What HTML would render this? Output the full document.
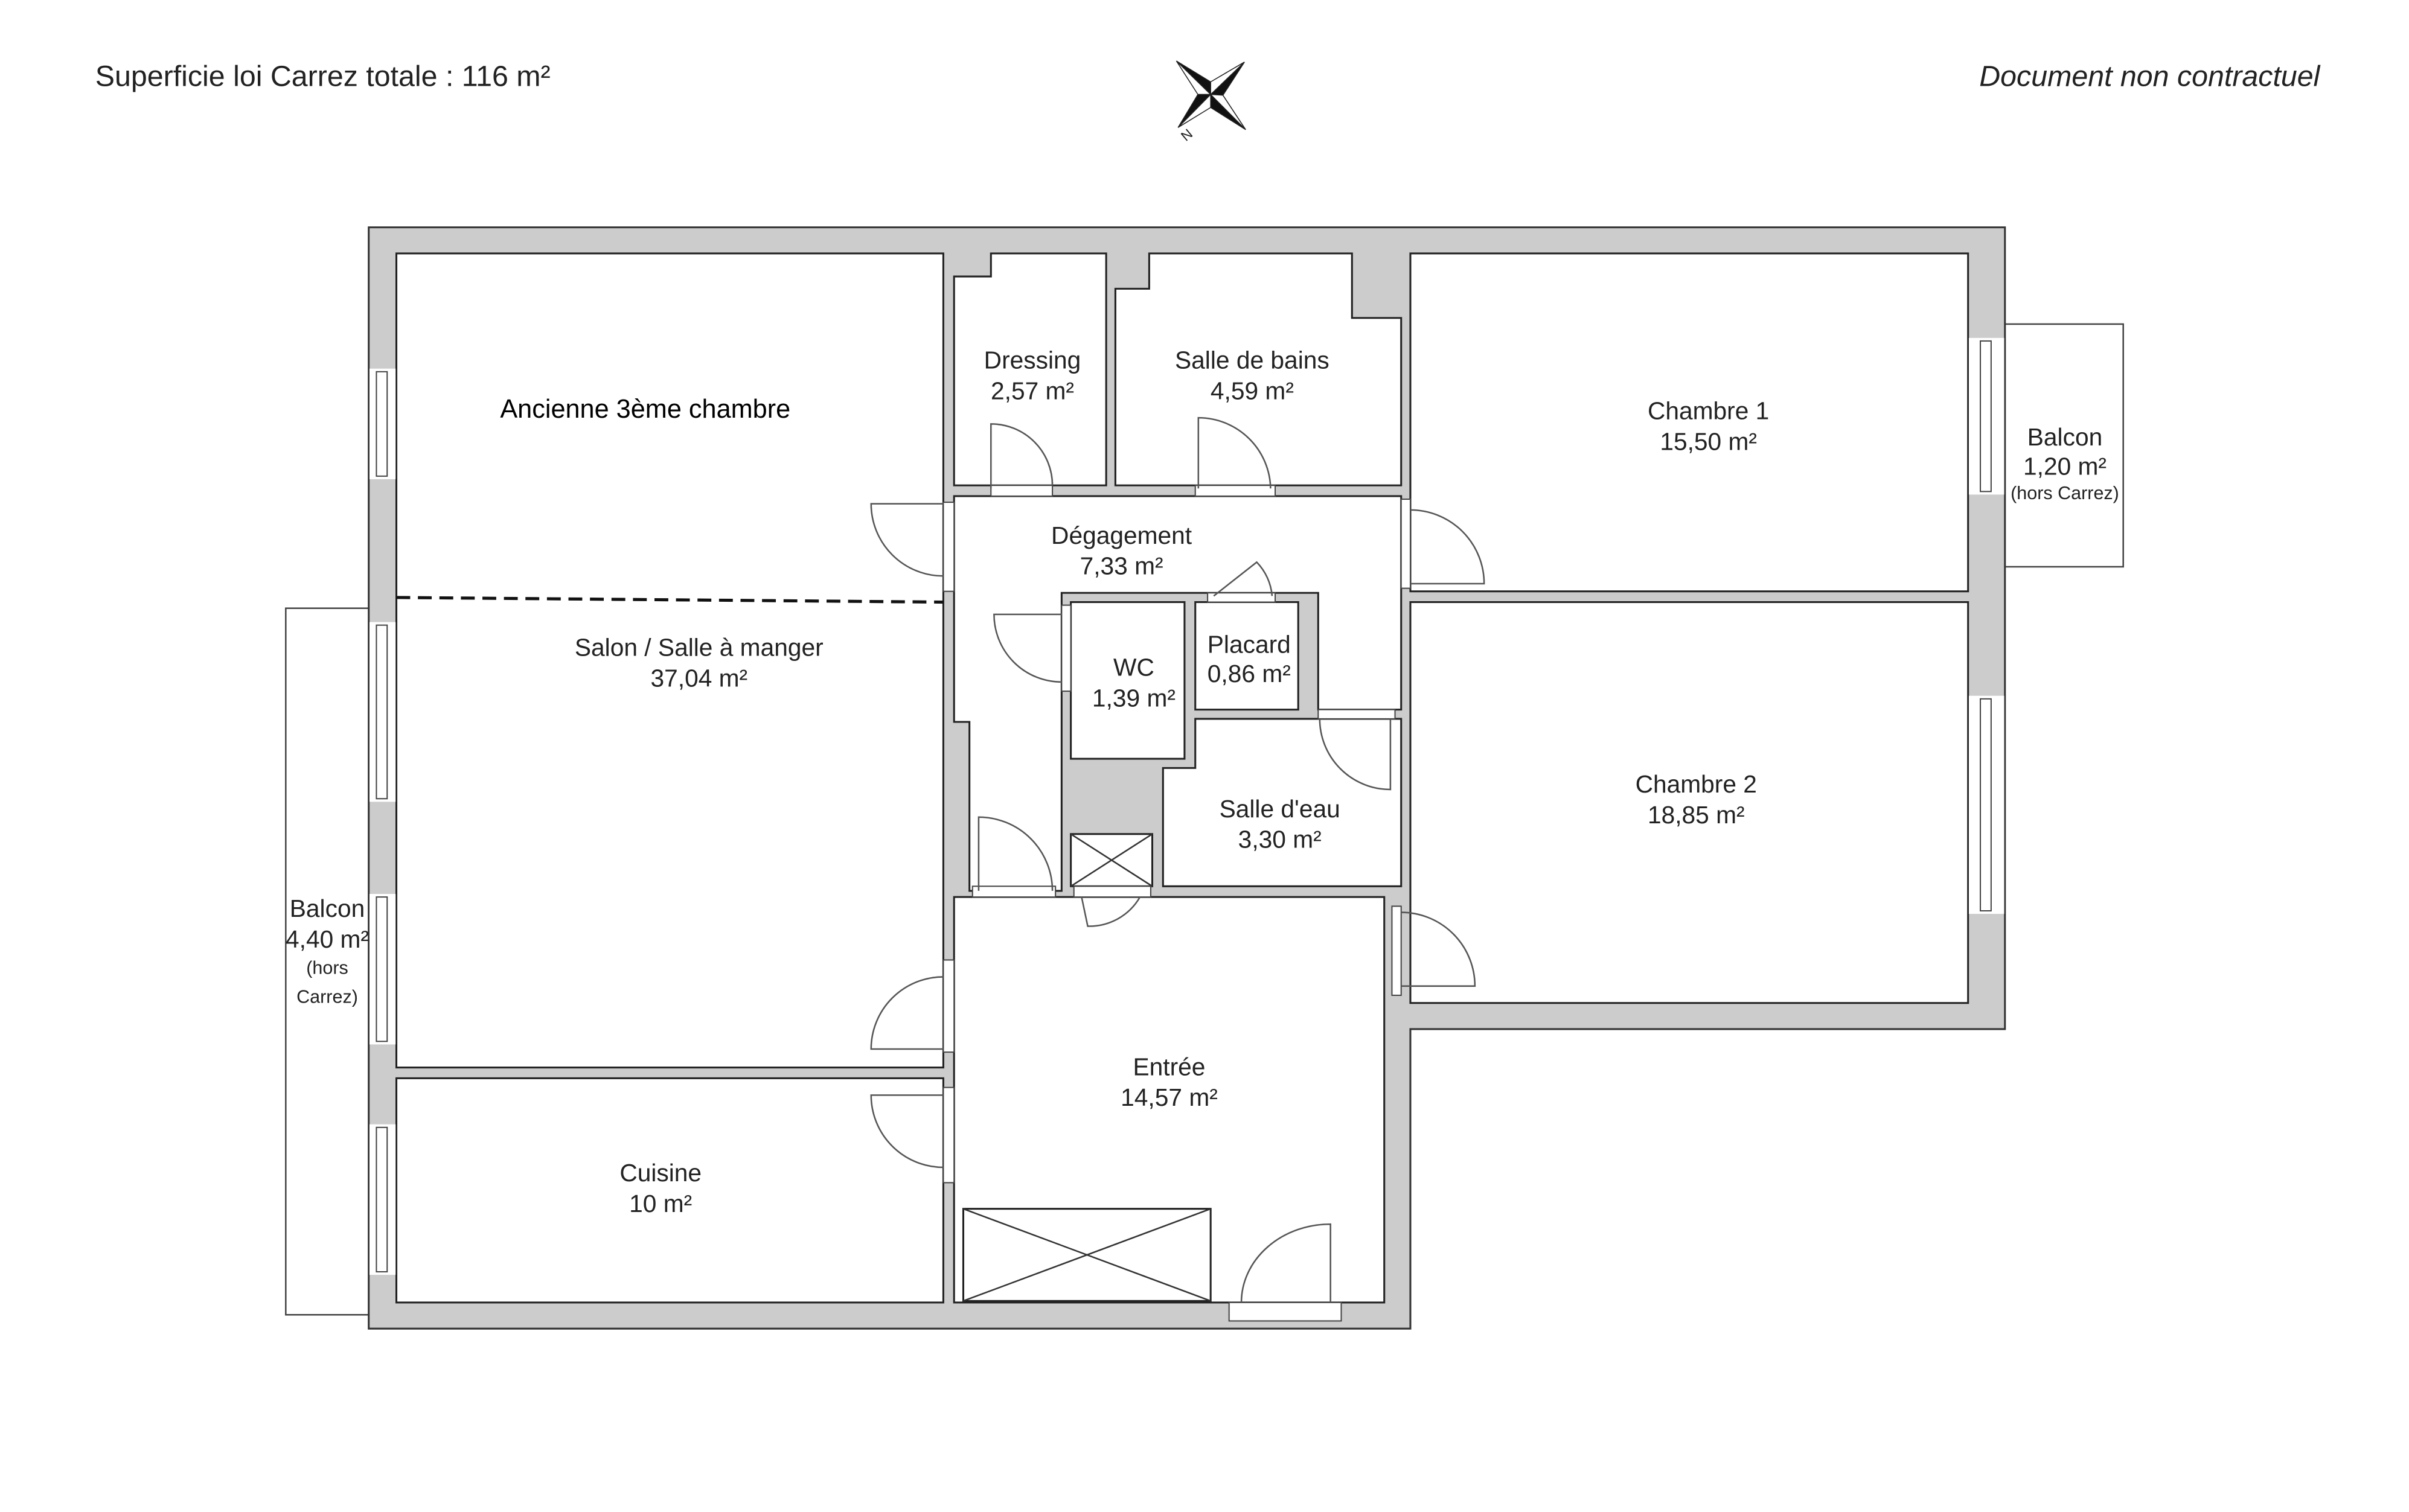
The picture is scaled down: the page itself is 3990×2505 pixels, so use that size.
<!DOCTYPE html>
<html><head><meta charset="utf-8"><style>
html,body{margin:0;padding:0;background:#fff;}
svg{display:block;}
text{font-family:"Liberation Sans",sans-serif;fill:#222;}
</style></head><body>
<svg width="3990" height="2505" viewBox="0 0 1568 984.4" preserveAspectRatio="none" xmlns="http://www.w3.org/2000/svg">
<rect width="1568" height="985" fill="#fff"/>
<text x="62" y="56" font-size="19">Superficie loi Carrez totale :  116 m²</text>
<text x="1510" y="56" font-size="19" font-style="italic" text-anchor="end">Document non contractuel</text>
<g transform="translate(8,0)">
<g stroke="#222" stroke-width="0.6">
<polygon points="757.7,39.7 780,53.3 780,61.5" fill="#111"/>
<polygon points="757.7,39.7 771.7,61.5 780,61.5" fill="#fff"/>
<polygon points="802,40.4 788,62 780,61.5" fill="#111"/>
<polygon points="802,40.4 780,53.3 780,61.5" fill="#fff"/>
<polygon points="802.8,84.4 780,70 780,61.5" fill="#111"/>
<polygon points="802.8,84.4 788,62 780,61.5" fill="#fff"/>
<polygon points="758.8,83 771.7,61.5 780,61.5" fill="#111"/>
<polygon points="758.8,83 780,70 780,61.5" fill="#fff"/>
</g>
<text x="762" y="93" font-size="9" transform="rotate(-40 762 90)">N</text>
</g>

<rect x="186" y="396" width="54" height="460" fill="#fff" stroke="#444" stroke-width="1"/>
<rect x="1305" y="211" width="77" height="158" fill="#fff" stroke="#444" stroke-width="1"/>

<polygon points="240,148 1305,148 1305,670 918,670 918,865 240,865" fill="#cccccc" stroke="#333" stroke-width="1.2"/>

<g fill="#fff" stroke="#222" stroke-width="1.2">
<rect x="258" y="165" width="356" height="530"/>
<rect x="258" y="702" width="356" height="146"/>
<polygon points="621,180 645,180 645,165 720,165 720,316 621,316"/>
<polygon points="726,188 748,188 748,165 880,165 880,207 912,207 912,316 726,316"/>
<rect x="918" y="165" width="363" height="220"/>
<rect x="918" y="392" width="363" height="261"/>
<polygon points="621,323 912,323 912,462 858,462 858,386 691,386 691,580 631,580 631,470 621,470"/>
<rect x="697" y="392" width="74" height="102"/>
<rect x="778" y="392" width="67" height="70"/>
<polygon points="778,468 912,468 912,577 757,577 757,500 778,500"/>
<rect x="621" y="584" width="280" height="264"/>
<rect x="697" y="543" width="53" height="34"/>
<rect x="627" y="787" width="161" height="60"/>
</g>
<g stroke="#333" stroke-width="1">
<line x1="697" y1="543" x2="750" y2="577"/><line x1="750" y1="543" x2="697" y2="577"/>
<line x1="627" y1="787" x2="788" y2="847"/><line x1="788" y1="787" x2="627" y2="847"/>
</g>

<g fill="#fff" stroke="#444" stroke-width="0.8">
<rect x="240.5" y="240" width="17" height="72" stroke="none"/>
<rect x="245" y="242" width="7" height="68"/>
<rect x="240.5" y="405" width="17" height="117" stroke="none"/>
<rect x="245" y="407" width="7" height="113"/>
<rect x="240.5" y="582" width="17" height="98" stroke="none"/>
<rect x="245" y="584" width="7" height="94"/>
<rect x="240.5" y="732" width="17" height="98" stroke="none"/>
<rect x="245" y="734" width="7" height="94"/>
<rect x="1281.5" y="220" width="23" height="102" stroke="none"/>
<rect x="1289" y="222" width="7" height="98"/>
<rect x="1281.5" y="453" width="23" height="142" stroke="none"/>
<rect x="1289" y="455" width="7" height="138"/>
<rect x="614" y="327" width="7" height="58"/>
<rect x="614" y="625" width="7" height="60"/>
<rect x="614" y="708" width="7" height="62"/>
<rect x="645" y="316" width="40" height="7"/>
<rect x="778" y="316" width="52" height="7"/>
<rect x="912" y="325" width="6" height="58"/>
<rect x="691" y="394" width="6" height="56"/>
<rect x="786" y="386" width="44" height="6"/>
<rect x="858" y="462" width="50" height="6"/>
<rect x="633" y="577" width="54" height="7"/>
<rect x="699" y="577" width="50" height="7"/>
<rect x="906" y="590" width="6" height="58"/>
<rect x="800" y="848" width="73" height="12"/>
</g>
<g fill="none" stroke="#555" stroke-width="1">
<path d="M614,328 L567,328 A47,47 0 0 0 614,375"/>
<path d="M614,683 L567,683 A47,47 0 0 1 614,636"/>
<path d="M614,713 L567,713 A47,47 0 0 0 614,760"/>
<path d="M645,318 L645,276 A40,40 0 0 1 685,316"/>
<path d="M780,318 L780,272 A47,47 0 0 1 827,318"/>
<path d="M918,380 L966,380 A48,48 0 0 0 918,332"/>
<path d="M691,400 L647,400 A44,44 0 0 0 691,444"/>
<path d="M790,388 L818,366 A36,36 0 0 1 828,388"/>
<path d="M905,468 L905,514 A46,46 0 0 1 859,468"/>
<path d="M637,580 L637,532 A48,48 0 0 1 685,580"/>
<path d="M704,584 L708,603 A38,38 0 0 0 742,584"/>
<path d="M912,642 L960,642 A48,48 0 0 0 912,594"/>
<path d="M866,848 L866,797 A58,51 0 0 0 808,848"/>
</g>

<line x1="258" y1="389" x2="614" y2="392" stroke="#111" stroke-width="2" stroke-dasharray="9,5"/>

<g font-size="16" text-anchor="middle">
<text x="672" y="240">Dressing</text><text x="672" y="260">2,57 m²</text>
<text x="815" y="240">Salle de bains</text><text x="815" y="260">4,59 m²</text>
<text x="1112" y="273">Chambre 1</text><text x="1112" y="293">15,50 m²</text>
<text x="1344" y="290">Balcon</text><text x="1344" y="309">1,20 m²</text>
<text x="1344" y="325" font-size="12">(hors Carrez)</text>
<text x="730" y="354">Dégagement</text><text x="730" y="374">7,33 m²</text>
<text x="455" y="427">Salon / Salle à manger</text><text x="455" y="447">37,04 m²</text>
<text x="738" y="440">WC</text><text x="738" y="460">1,39 m²</text>
<text x="813" y="425">Placard</text><text x="813" y="444">0,86 m²</text>
<text x="833" y="532">Salle d'eau</text><text x="833" y="552">3,30 m²</text>
<text x="1104" y="516">Chambre 2</text><text x="1104" y="536">18,85 m²</text>
<text x="213" y="597">Balcon</text><text x="213" y="617">4,40 m²</text>
<text x="213" y="634" font-size="12">(hors</text><text x="213" y="653" font-size="12">Carrez)</text>
<text x="761" y="700">Entrée</text><text x="761" y="720">14,57 m²</text>
<text x="430" y="769">Cuisine</text><text x="430" y="789">10 m²</text>
</g>
<text x="420" y="272" font-size="17" text-anchor="middle" style="fill:#000">Ancienne 3ème chambre</text>
</svg>
</body></html>
